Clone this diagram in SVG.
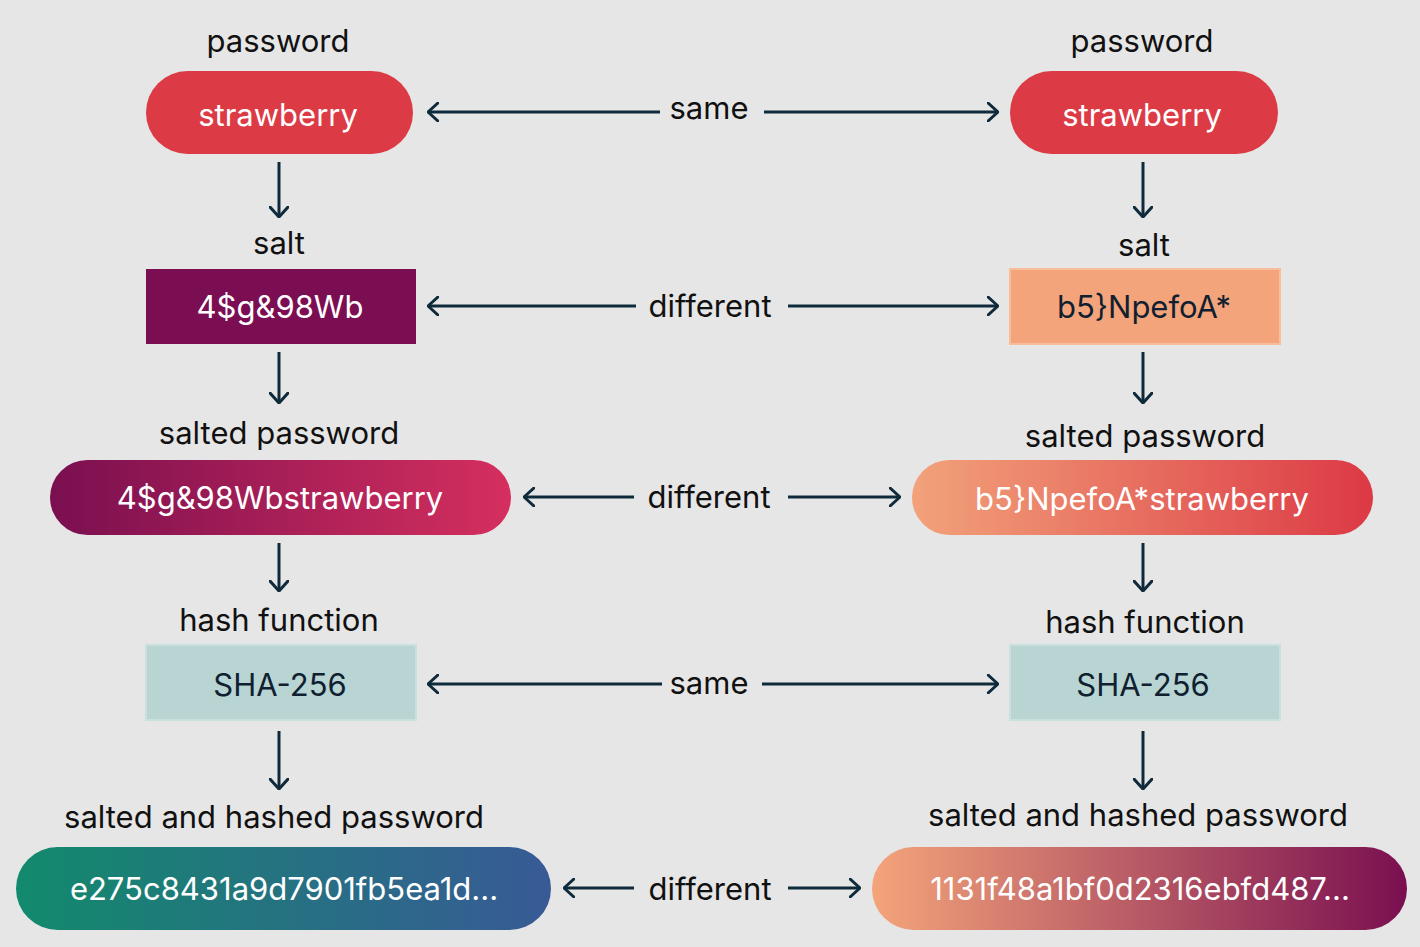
<svg xmlns="http://www.w3.org/2000/svg" width="1420" height="947" viewBox="0 0 1420 947">
<defs>
<style>
text{font-family:Inter,"Noto Sans","Liberation Sans",sans-serif;font-size:31px;font-weight:400;text-anchor:middle}
.lbl{fill:#111}
.w{fill:#fff}
.d{fill:#102030}
.c line{stroke:#0f2a3a;stroke-width:3}
</style>
<marker id="ah" viewBox="0 0 12 20" refX="11" refY="10" markerWidth="12" markerHeight="20" markerUnits="userSpaceOnUse" orient="auto-start-reverse">
<path d="M1,1 L11,10 L1,19" fill="none" stroke="#0f2a3a" stroke-width="3" stroke-linecap="round" stroke-linejoin="round"/>
</marker>
<linearGradient id="gL3" x1="0" x2="1" y1="0" y2="0"><stop offset="0" stop-color="#7A0F50"/><stop offset="1" stop-color="#D52F5E"/></linearGradient>
<linearGradient id="gR3" x1="0" x2="1" y1="0" y2="0"><stop offset="0" stop-color="#F2A27A"/><stop offset="1" stop-color="#DC3945"/></linearGradient>
<linearGradient id="gL5" x1="0" x2="1" y1="0" y2="0"><stop offset="0" stop-color="#128A6C"/><stop offset="1" stop-color="#385A96"/></linearGradient>
<linearGradient id="gR5" x1="0" x2="1" y1="0" y2="0"><stop offset="0" stop-color="#F4A47A"/><stop offset="1" stop-color="#7A0F50"/></linearGradient>
</defs>
<rect width="1420" height="947" fill="#e6e6e6"/>

<g id="left-password">
<text class="lbl" x="278" y="52">password</text>
<rect x="146" y="71" width="267" height="83" rx="41.5" fill="#DC3A45"/>
<text class="w" x="278" y="126">strawberry</text>
</g>
<g id="right-password">
<text class="lbl" x="1142" y="52">password</text>
<rect x="1010" y="71" width="268" height="83" rx="41.5" fill="#DC3A45"/>
<text class="w" x="1142" y="126">strawberry</text>
</g>

<g id="left-salt">
<text class="lbl" x="279" y="254">salt</text>
<rect x="146" y="269" width="270" height="75" fill="#7B0E52"/>
<text class="w" x="280" y="318">4$g&amp;98Wb</text>
</g>
<g id="right-salt">
<text class="lbl" x="1144" y="256">salt</text>
<rect x="1010" y="269" width="270" height="75" fill="#F4A47A" stroke="#F8BE9C" stroke-width="2"/>
<text class="d" x="1144" y="318">b5}NpefoA*</text>
</g>

<g id="left-salted">
<text class="lbl" x="279" y="444">salted password</text>
<rect x="50" y="460" width="461" height="75" rx="37.5" fill="url(#gL3)"/>
<text class="w" x="280" y="509">4$g&amp;98Wbstrawberry</text>
</g>
<g id="right-salted">
<text class="lbl" x="1145" y="447">salted password</text>
<rect x="912" y="460" width="461" height="75" rx="37.5" fill="url(#gR3)"/>
<text class="w" x="1142" y="510">b5}NpefoA*strawberry</text>
</g>

<g id="left-hash">
<text class="lbl" x="279" y="631">hash function</text>
<rect x="146" y="645" width="270" height="75" fill="#B8D5D4" stroke="#C9E0DF" stroke-width="2"/>
<text class="d" x="280" y="696">SHA-256</text>
</g>
<g id="right-hash">
<text class="lbl" x="1145" y="633">hash function</text>
<rect x="1010" y="645" width="270" height="75" fill="#B8D5D4" stroke="#C9E0DF" stroke-width="2"/>
<text class="d" x="1143" y="696">SHA-256</text>
</g>

<g id="left-result">
<text class="lbl" x="274" y="828">salted and hashed password</text>
<rect x="16" y="847" width="535" height="83" rx="41.5" fill="url(#gL5)"/>
<text class="w" x="284" y="900">e275c8431a9d7901fb5ea1d...</text>
</g>
<g id="right-result">
<text class="lbl" x="1138" y="826">salted and hashed password</text>
<rect x="872" y="847" width="535" height="83" rx="41.5" fill="url(#gR5)"/>
<text class="w" x="1140" y="900">1131f48a1bf0d2316ebfd487...</text>
</g>

<g id="connectors" class="c">
<line x1="279" y1="162" x2="279" y2="217" marker-end="url(#ah)"/>
<line x1="279" y1="352" x2="279" y2="403" marker-end="url(#ah)"/>
<line x1="279" y1="543" x2="279" y2="591" marker-end="url(#ah)"/>
<line x1="279" y1="731" x2="279" y2="789" marker-end="url(#ah)"/>
<line x1="1143" y1="162" x2="1143" y2="217" marker-end="url(#ah)"/>
<line x1="1143" y1="352" x2="1143" y2="403" marker-end="url(#ah)"/>
<line x1="1143" y1="543" x2="1143" y2="591" marker-end="url(#ah)"/>
<line x1="1143" y1="731" x2="1143" y2="789" marker-end="url(#ah)"/>

<line x1="660" y1="112" x2="428" y2="112" marker-end="url(#ah)"/>
<line x1="764" y1="112" x2="998" y2="112" marker-end="url(#ah)"/>
<line x1="636" y1="306" x2="428" y2="306" marker-end="url(#ah)"/>
<line x1="788" y1="306" x2="998" y2="306" marker-end="url(#ah)"/>
<line x1="634" y1="497" x2="524" y2="497" marker-end="url(#ah)"/>
<line x1="788" y1="497" x2="900" y2="497" marker-end="url(#ah)"/>
<line x1="662" y1="684" x2="428" y2="684" marker-end="url(#ah)"/>
<line x1="762" y1="684" x2="998" y2="684" marker-end="url(#ah)"/>
<line x1="634" y1="888" x2="564" y2="888" marker-end="url(#ah)"/>
<line x1="788" y1="888" x2="860" y2="888" marker-end="url(#ah)"/>
<text class="lbl" x="709" y="119">same</text>
<text class="lbl" x="710" y="317">different</text>
<text class="lbl" x="709" y="508">different</text>
<text class="lbl" x="709" y="694">same</text>
<text class="lbl" x="710" y="900">different</text>
</g>
</svg>
